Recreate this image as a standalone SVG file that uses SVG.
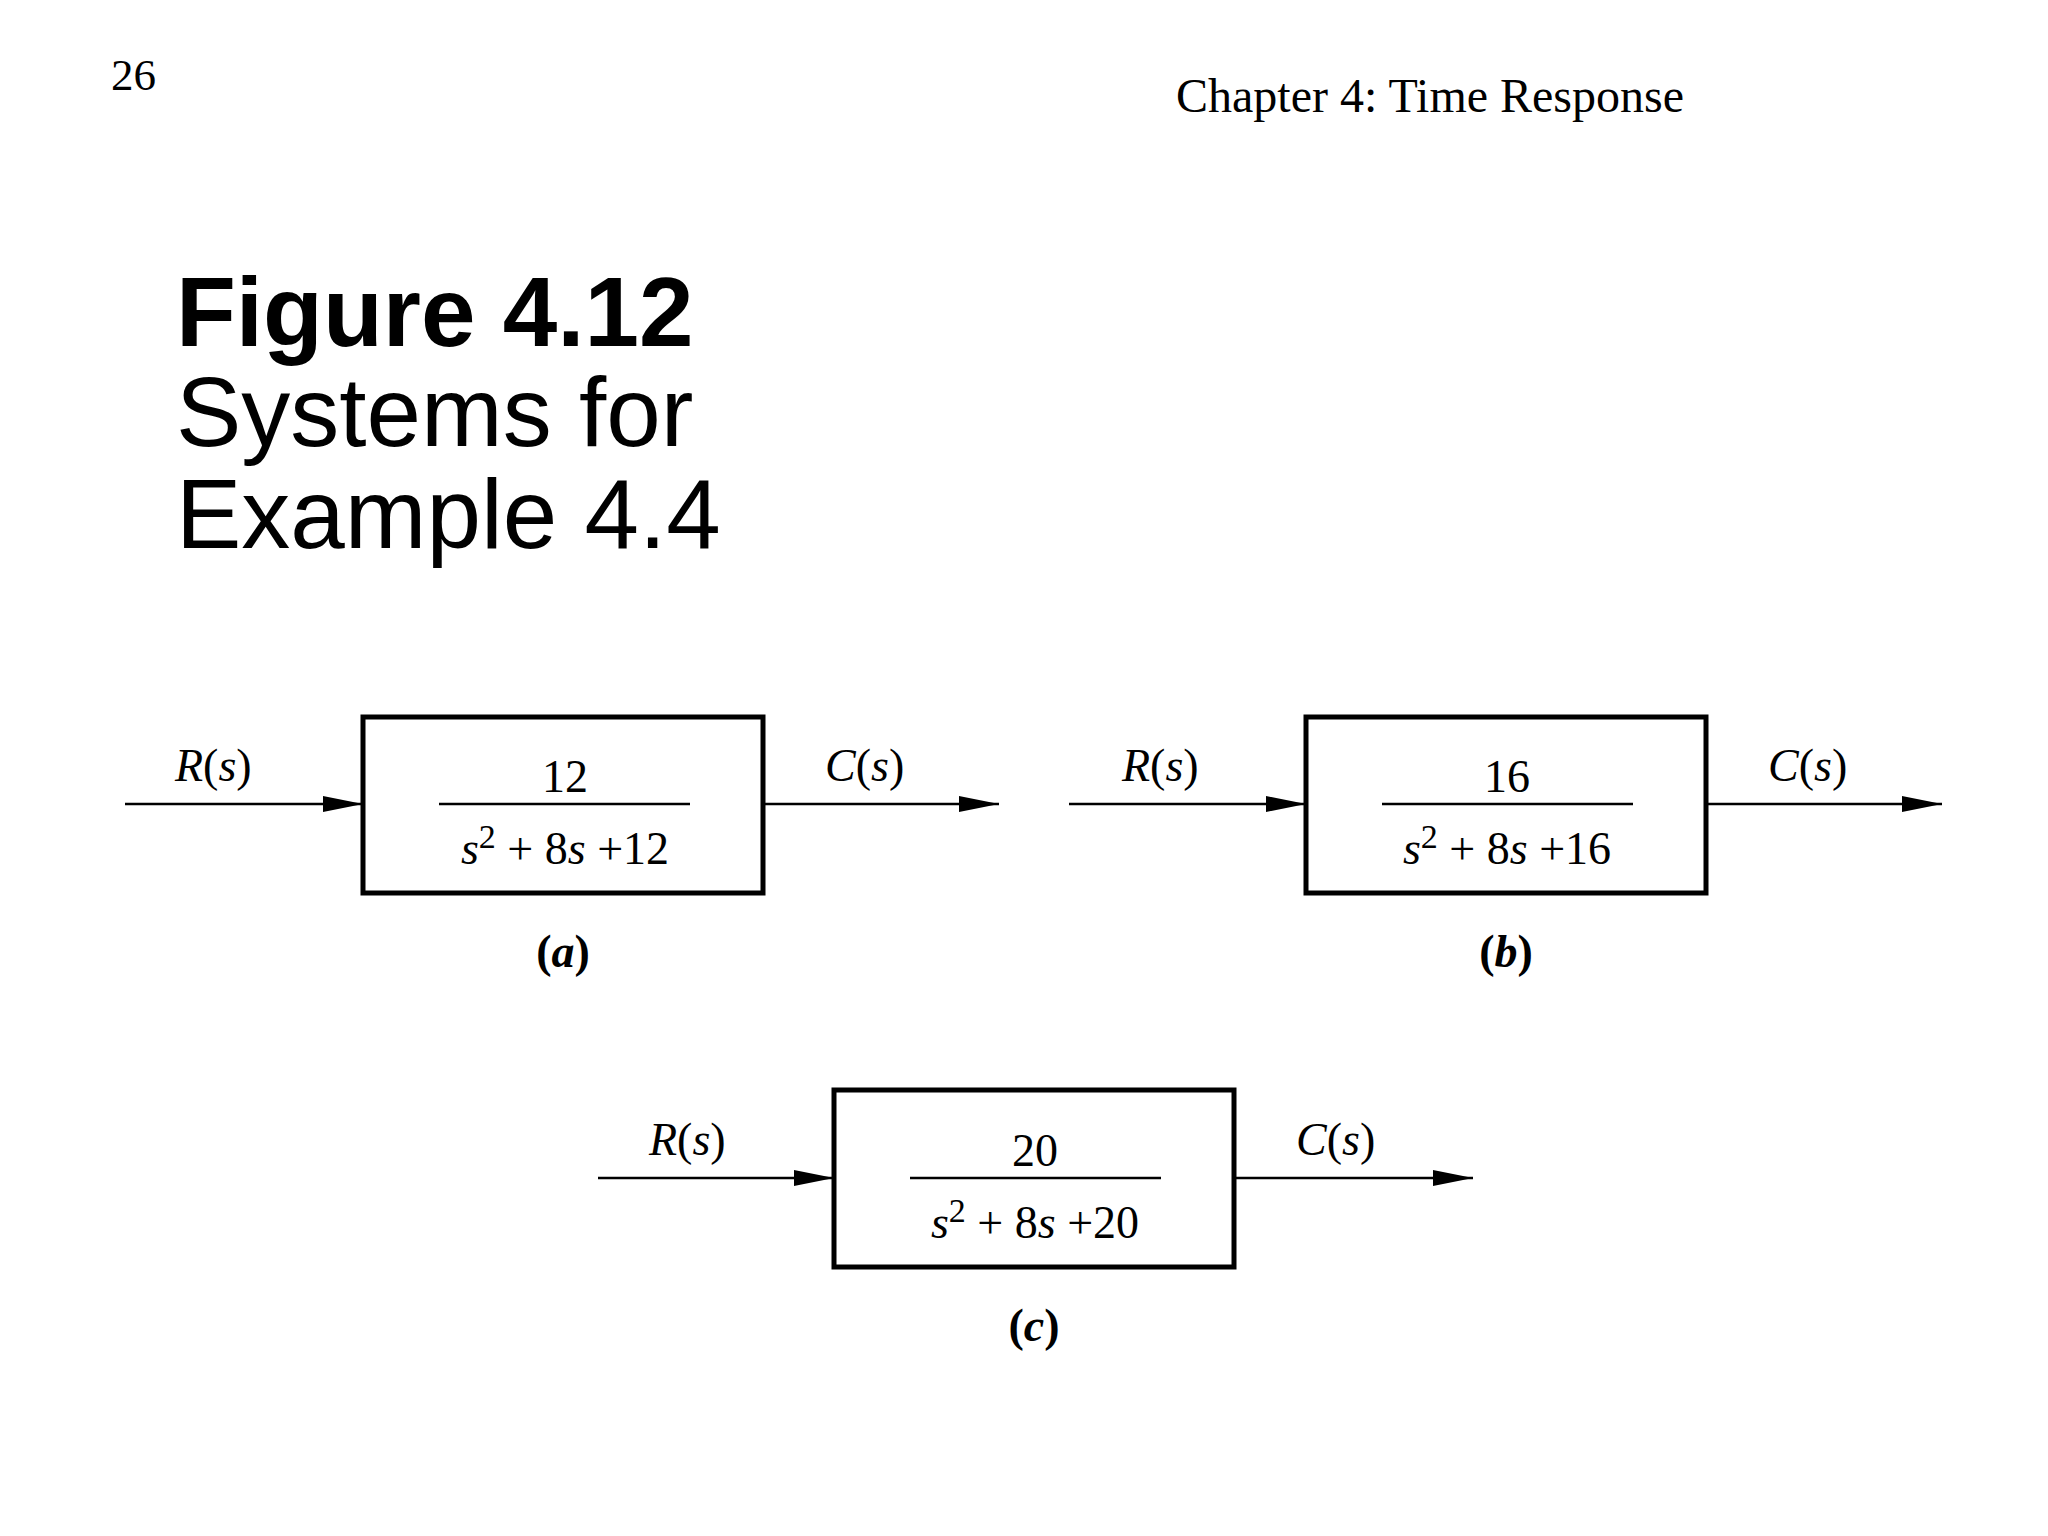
<svg xmlns="http://www.w3.org/2000/svg" width="2048" height="1536" viewBox="0 0 2048 1536">
<defs>
<marker id="ah" markerWidth="40" markerHeight="20" refX="40" refY="10" orient="auto" markerUnits="userSpaceOnUse"><path d="M0,2 L40,10 L0,18 Z" fill="#000"/></marker>
<style>
.t{font-family:"Liberation Serif",serif;fill:#000}
.m{font-family:"Liberation Serif",serif;font-size:46px;fill:#000}
.i{font-style:italic}
.h{font-family:"Liberation Sans",Arial,sans-serif;fill:#000;font-size:98px}
.box{fill:#fff;stroke:#000;stroke-width:5}
.ln{stroke:#000;stroke-width:2.5;fill:none}
.w{stroke:#000;stroke-width:2.5;fill:none;marker-end:url(#ah)}
</style>
</defs>
<rect width="2048" height="1536" fill="#fff"/>
<text class="t" x="111" y="90" font-size="45">26</text>
<text class="t" x="1176" y="112" font-size="48">Chapter 4: Time Response</text>
<text class="h" x="176" y="346" font-weight="bold">Figure 4.12</text>
<text class="h" x="176" y="446">Systems for</text>
<text class="h" x="176" y="548">Example 4.4</text>
<g id="connectors">
<line class="w" x1="125" y1="804" x2="363" y2="804"/>
<line class="w" x1="763" y1="804" x2="999" y2="804"/>
<line class="w" x1="1069" y1="804" x2="1306" y2="804"/>
<line class="w" x1="1706" y1="804" x2="1942" y2="804"/>
<line class="w" x1="598" y1="1178" x2="834" y2="1178"/>
<line class="w" x1="1234" y1="1178" x2="1473" y2="1178"/>
</g>
<g id="a">
<rect class="box" x="363" y="717" width="400" height="176"/>
<text class="m" x="565" y="792" text-anchor="middle">12</text>
<line class="ln" x1="439" y1="804" x2="690" y2="804"/>
<text class="m" x="565" y="864" text-anchor="middle"><tspan class="i">s</tspan><tspan dy="-16" font-size="34">2</tspan><tspan dy="16"> + 8</tspan><tspan class="i">s</tspan> +12</text>
<text class="m" x="175" y="781"><tspan class="i">R</tspan>(<tspan class="i">s</tspan>)</text>
<text class="m" x="825" y="781"><tspan class="i">C</tspan>(<tspan class="i">s</tspan>)</text>
<text class="m" x="563" y="967" text-anchor="middle" font-weight="bold">(<tspan class="i">a</tspan>)</text>
</g>
<g id="b">
<rect class="box" x="1306" y="717" width="400" height="176"/>
<text class="m" x="1507" y="792" text-anchor="middle">16</text>
<line class="ln" x1="1382" y1="804" x2="1633" y2="804"/>
<text class="m" x="1507" y="864" text-anchor="middle"><tspan class="i">s</tspan><tspan dy="-16" font-size="34">2</tspan><tspan dy="16"> + 8</tspan><tspan class="i">s</tspan> +16</text>
<text class="m" x="1122" y="781"><tspan class="i">R</tspan>(<tspan class="i">s</tspan>)</text>
<text class="m" x="1768" y="781"><tspan class="i">C</tspan>(<tspan class="i">s</tspan>)</text>
<text class="m" x="1506" y="967" text-anchor="middle" font-weight="bold">(<tspan class="i">b</tspan>)</text>
</g>
<g id="c">
<rect class="box" x="834" y="1090" width="400" height="177"/>
<text class="m" x="1035" y="1166" text-anchor="middle">20</text>
<line class="ln" x1="910" y1="1178" x2="1161" y2="1178"/>
<text class="m" x="1035" y="1238" text-anchor="middle"><tspan class="i">s</tspan><tspan dy="-16" font-size="34">2</tspan><tspan dy="16"> + 8</tspan><tspan class="i">s</tspan> +20</text>
<text class="m" x="649" y="1155"><tspan class="i">R</tspan>(<tspan class="i">s</tspan>)</text>
<text class="m" x="1296" y="1155"><tspan class="i">C</tspan>(<tspan class="i">s</tspan>)</text>
<text class="m" x="1034" y="1341" text-anchor="middle" font-weight="bold">(<tspan class="i">c</tspan>)</text>
</g>
</svg>
